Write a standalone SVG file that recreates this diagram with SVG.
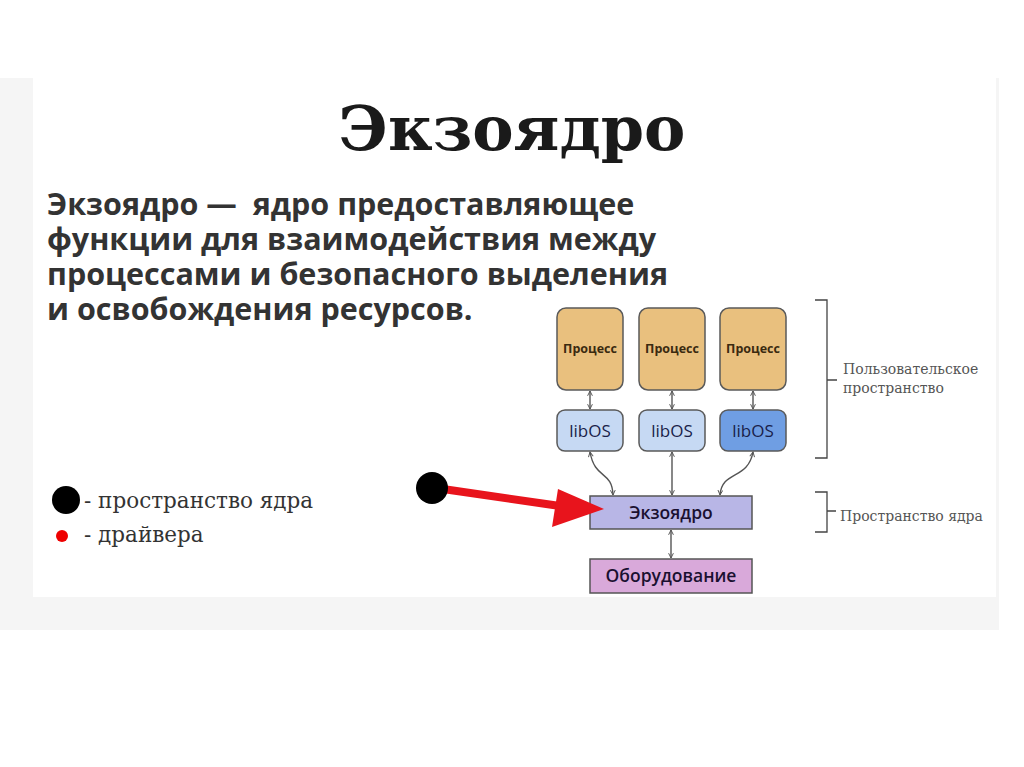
<svg xmlns="http://www.w3.org/2000/svg" width="1024" height="767" viewBox="0 0 1024 767">
<defs>
<style>
.proc{fill:#e9c07e;stroke:#5a5a5a;stroke-width:1.5}
.lib{fill:#c6d9f3;stroke:#5a5a5a;stroke-width:1.5}
.libd{fill:#6f9ee3;stroke:#5a5a5a;stroke-width:1.5}
.ptxt{font-family:"Open Sans",sans-serif;font-weight:bold;font-size:12.5px;fill:#3a2a10;text-anchor:middle}
.ltxt{font-family:"Open Sans",sans-serif;font-size:17px;fill:#1a1f4a;text-anchor:middle}
.btxt{font-family:"Open Sans",sans-serif;font-weight:600;font-size:17.5px;fill:#1a1030;text-anchor:middle}
.para{font-family:"Open Sans",sans-serif;font-weight:bold;font-size:30.5px;fill:#333}
.leg{font-family:"DejaVu Serif",serif;font-size:21.5px;fill:#333}
.note{font-family:"DejaVu Serif",serif;font-size:14px;fill:#555}
.con{fill:none;stroke:#555;stroke-width:1.4;marker-start:url(#ah);marker-end:url(#ah)}
.br{fill:none;stroke:#444;stroke-width:1.3}
</style>
<marker id="ah" viewBox="0 0 10 10" refX="9" refY="5" markerWidth="6" markerHeight="6" orient="auto-start-reverse" markerUnits="userSpaceOnUse">
<path d="M1,1 L9,5 L1,9" fill="none" stroke="#555" stroke-width="1.6"/>
</marker>
</defs>
<rect x="0" y="0" width="1024" height="767" fill="#ffffff"/>
<rect x="0" y="78" width="999" height="552" fill="#f5f5f5"/>
<rect x="33" y="78" width="963" height="519" fill="#ffffff"/>
<text x="512" y="150" font-family="DejaVu Serif,serif" font-weight="bold" font-size="62" fill="#1a1a1a" text-anchor="middle">Экзоядро</text>
<g id="paragraph">
<text class="para" x="47" y="215" xml:space="preserve">Экзоядро —  ядро предоставляющее</text>
<text class="para" x="47" y="250">функции для взаимодействия между</text>
<text class="para" x="47" y="285">процессами и безопасного выделения</text>
<text class="para" x="47" y="320">и освобождения ресурсов.</text>
</g>
<g id="legend">
<circle cx="66" cy="500" r="14" fill="#000"/>
<text class="leg" x="84" y="508">- пространство ядра</text>
<circle cx="62" cy="536" r="6" fill="#e00"/>
<text class="leg" x="84" y="542">- драйвера</text>
</g>
<g id="connectors">
<line class="con" x1="590" y1="391" x2="590" y2="409"/>
<line class="con" x1="672" y1="391" x2="672" y2="409"/>
<line class="con" x1="753" y1="391" x2="753" y2="409"/>
<path class="con" d="M590,452 C595,480 612,470 613,495"/>
<line class="con" x1="672" y1="452" x2="672" y2="495"/>
<path class="con" d="M753,452 C748,480 722,470 720,495"/>
<line class="con" x1="671" y1="530" x2="671" y2="558"/>
</g>
<g id="proc1"><rect class="proc" x="557" y="308" width="66" height="82" rx="9"/><text class="ptxt" x="590" y="353">Процесс</text></g>
<g id="proc2"><rect class="proc" x="639" y="308" width="66" height="82" rx="9"/><text class="ptxt" x="672" y="353">Процесс</text></g>
<g id="proc3"><rect class="proc" x="720" y="308" width="66" height="82" rx="9"/><text class="ptxt" x="753" y="353">Процесс</text></g>
<g id="lib1"><rect class="lib" x="557" y="410" width="66" height="41" rx="8"/><text class="ltxt" x="590" y="437">libOS</text></g>
<g id="lib2"><rect class="lib" x="639" y="410" width="66" height="41" rx="8"/><text class="ltxt" x="672" y="437">libOS</text></g>
<g id="lib3"><rect class="libd" x="720" y="410" width="66" height="41" rx="8"/><text class="ltxt" x="753" y="437">libOS</text></g>
<g id="exo"><rect x="590" y="496" width="162" height="33" fill="#b8b6e6" stroke="#555" stroke-width="1.5"/><text class="btxt" x="671" y="519">Экзоядро</text></g>
<g id="hw"><rect x="590" y="559" width="162" height="34" fill="#d9a9da" stroke="#555" stroke-width="1.5"/><text class="btxt" x="671" y="582">Оборудование</text></g>
<g id="user-brace"><path class="br" d="M815,300 H827 V458 H815 M827,380 H837"/><text class="note" x="843" y="374">Пользовательское</text><text class="note" x="843" y="393">пространство</text></g>
<g id="kernel-brace"><path class="br" d="M815,492 H827 V532 H815 M827,511 H836"/><text class="note" x="840" y="521">Пространство ядра</text></g>
<g id="red-arrow">
<line x1="436" y1="488" x2="560" y2="506" stroke="#e8141c" stroke-width="8"/>
<polygon points="604,509 558,489 552,527" fill="#e8141c"/>
<circle cx="432" cy="488" r="16" fill="#000"/>
</g>
</svg>
